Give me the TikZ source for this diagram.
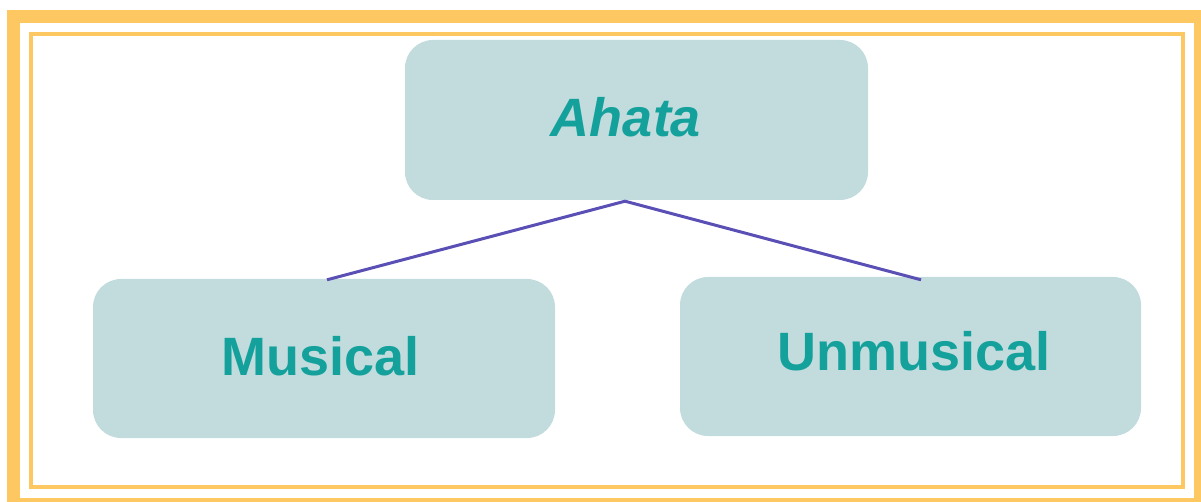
\documentclass[tikz,border=0pt]{standalone}
\usepackage{fontspec}
\setmainfont{Liberation Sans}
\definecolor{frameorange}{HTML}{FDC761}
\definecolor{boxfill}{HTML}{C2DCDE}
\definecolor{labelteal}{HTML}{14A19C}
\definecolor{linkblue}{HTML}{5A4FB5}
\begin{document}
\begin{tikzpicture}[x=1pt,y=-1pt,
  catbox/.style={draw=none, fill=boxfill, rounded corners=28pt, inner sep=0pt},
  cattext/.style={text=labelteal, font=\fontsize{54}{60}\selectfont\bfseries, inner sep=0pt, anchor=base},
  link/.style={draw=linkblue, line width=3pt}]
  \useasboundingbox (0,0) rectangle (1201,502);
  \begin{scope}
    \clip (0,0) rectangle (1201,502);
    % double frame
    \draw[frameorange, line width=13pt] (13.5,16.5) rectangle (1200.5,504.5);
    \draw[frameorange, line width=4pt] (31,34) rectangle (1183,487);
  \end{scope}
  % boxes
  \node[catbox, minimum width=463pt, minimum height=160pt] (top) at (636.5,120) {};
  \node[catbox, minimum width=462pt, minimum height=159pt] (left) at (324,358.5) {};
  \node[catbox, minimum width=461pt, minimum height=159pt] (right) at (910.5,356.5) {};
  % labels
  \node[cattext, font=\fontsize{54}{60}\selectfont\bfseries\itshape] (ttop) at (626,137) {Ahata};
  \node[cattext] (tleft) at (320.5,375) {Musical};
  \node[cattext] (tright) at (914,370) {Unmusical};
  % connectors
  \coordinate (fork) at ([xshift=-11.5pt,yshift=-1pt]top.south);
  \coordinate (lend) at ([xshift=3pt,yshift=-1pt]left.north);
  \coordinate (rend) at ([xshift=10.5pt,yshift=-3pt]right.north);
  \draw[link] (lend) -- (fork) -- (rend);
\end{tikzpicture}
\end{document}
